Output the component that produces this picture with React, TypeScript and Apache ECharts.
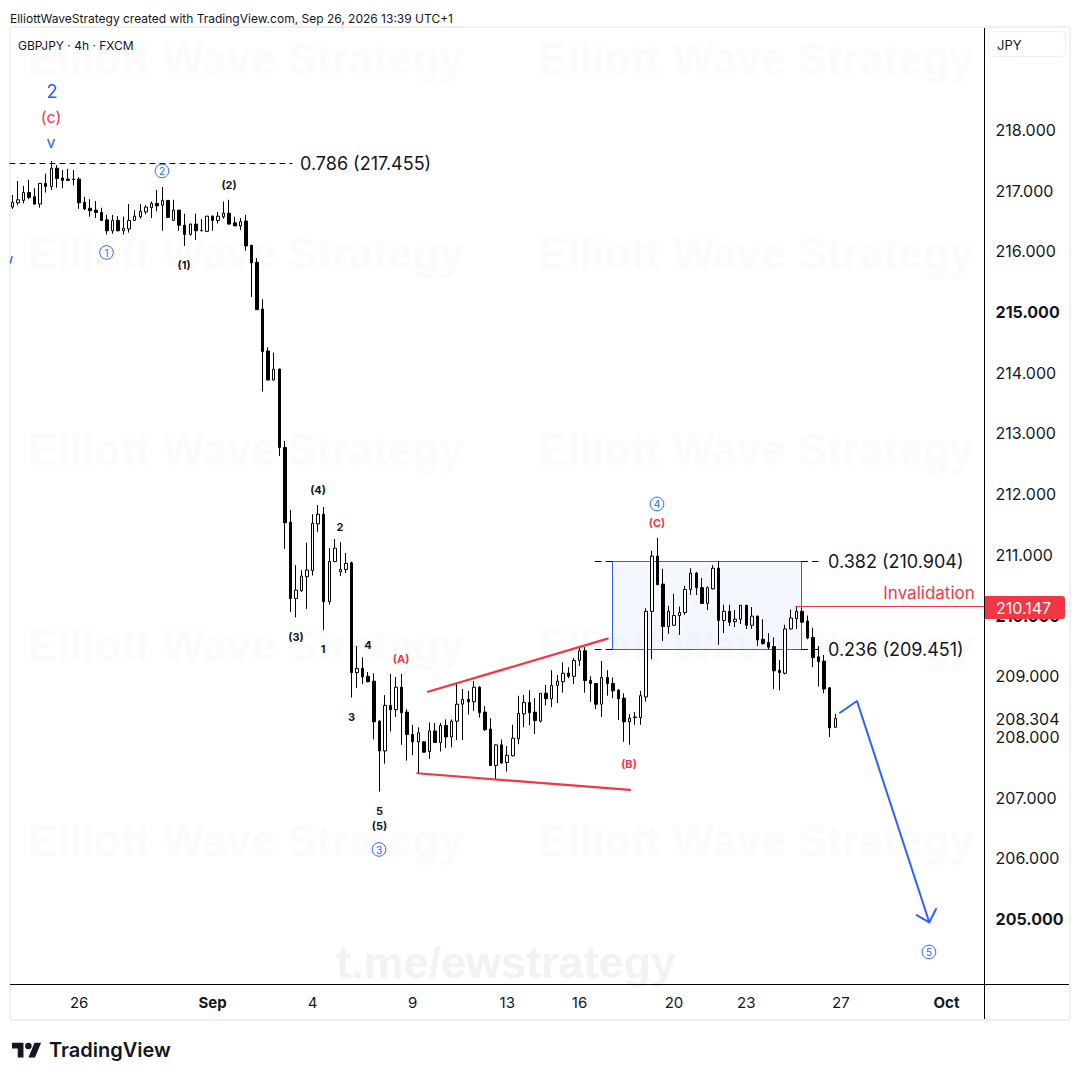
import React, { useEffect, useRef } from 'react';
import * as echarts from 'echarts';

// [open, close, low, high], 4h bars
const candles: number[][] = [
  [216.73,216.81,216.70,216.93],[216.80,216.85,216.76,217.16],[216.84,216.97,216.79,217.08],[216.97,216.89,216.86,217.18],
  [216.90,216.78,216.77,217.04],[216.78,217.12,216.72,217.12],[217.12,217.07,216.97,217.28],[217.07,217.37,217.01,217.49],
  [217.37,217.20,217.05,217.42],[217.21,217.17,217.04,217.34],[217.19,217.17,217.16,217.36],[217.19,217.185,217.09,217.34],
  [217.19,216.80,216.70,217.22],[216.81,216.70,216.68,216.90],[216.71,216.67,216.57,216.86],[216.68,216.64,216.55,216.83],
  [216.64,216.51,216.50,216.72],[216.52,216.34,216.28,216.60],[216.34,216.51,216.29,216.60],[216.51,216.34,216.33,216.58],
  [216.34,216.38,216.28,216.57],[216.37,216.51,216.31,216.78],[216.51,216.58,216.50,216.68],[216.57,216.66,216.54,216.78],
  [216.65,216.73,216.61,216.76],[216.72,216.79,216.55,216.82],[216.79,216.75,216.66,217.01],[216.76,216.84,216.34,217.06],
  [216.84,216.56,216.55,216.84],[216.51,216.68,216.50,216.85],[216.68,216.43,216.34,216.68],[216.43,216.28,216.09,216.62],
  [216.28,216.45,216.26,216.46],[216.45,216.34,216.19,216.62],[216.345,216.34,216.33,216.53],[216.33,216.58,216.32,216.58],
  [216.58,216.51,216.34,216.59],[216.51,216.58,216.46,216.65],[216.57,216.63,216.54,216.82],[216.63,216.45,216.44,216.85],
  [216.47,216.42,216.42,216.57],[216.42,216.49,216.35,216.55],[216.50,216.09,216.01,216.60],[216.10,215.81,215.25,216.10],
  [215.82,215.04,215.04,215.89],[215.05,214.35,213.69,215.21],[214.36,213.88,213.88,214.42],[213.88,214.06,213.87,214.33],
  [214.06,212.77,212.63,214.07],[212.77,211.53,211.10,212.88],[211.54,210.28,210.06,211.74],[210.28,210.42,209.97,210.83],
  [210.41,210.65,210.39,210.75],[210.64,210.75,210.11,211.20],[210.74,211.52,210.66,211.67],[211.51,211.67,211.38,211.82],
  [211.67,210.23,209.76,211.79],[210.23,210.89,210.18,211.11],[210.89,211.11,210.88,211.26],[210.72,210.76,210.65,211.21],
  [210.76,210.86,210.70,211.03],[210.87,209.06,208.65,210.89],[209.06,209.13,208.81,209.50],[209.13,208.99,208.87,209.31],
  [209.00,208.91,208.90,209.07],[208.92,208.25,207.96,209.05],[208.26,207.77,207.10,208.28],[207.77,208.52,207.56,208.69],
  [208.52,208.45,208.09,209.04],[208.45,208.82,208.33,208.99],[208.82,208.40,207.87,209.04],[208.41,208.04,207.61,208.46],
  [208.04,207.92,207.70,208.20],[207.92,208.07,207.40,208.16],[207.92,207.75,207.74,207.93],[207.76,208.10,207.64,208.24],
  [208.10,207.91,207.90,208.23],[207.91,208.19,207.76,208.23],[208.19,208.00,207.82,208.29],[208.00,208.26,207.83,208.29],
  [208.26,208.54,207.95,208.88],[208.54,208.62,207.95,208.79],[208.62,208.58,208.37,208.76],[208.58,208.82,208.43,208.92],
  [208.82,208.40,208.32,208.84],[208.41,208.12,208.10,208.51],[208.13,207.53,207.52,208.31],[207.53,207.87,207.29,207.88],
  [207.87,207.57,207.56,207.96],[207.58,207.70,207.43,207.85],[207.69,207.98,207.68,208.20],[207.97,208.39,207.88,208.68],
  [208.38,208.57,208.16,208.69],[208.57,208.40,208.19,208.77],[208.41,208.27,208.05,208.64],[208.26,208.72,208.24,208.72],
  [208.72,208.63,208.52,208.86],[208.63,208.85,208.49,209.10],[208.85,208.92,208.56,209.02],[208.91,209.05,208.73,209.23],
  [209.05,209.00,208.97,209.15],[209.00,209.26,208.87,209.30],[209.26,209.42,209.17,209.49],[209.42,208.93,208.73,209.48],
  [208.93,208.88,208.58,209.00],[208.88,208.54,208.46,208.89],[208.54,208.98,208.33,209.25],[208.98,208.88,208.68,209.10],
  [208.88,208.76,208.64,208.98],[208.77,208.63,208.28,208.79],[208.64,208.25,207.92,208.72],[208.25,208.31,207.87,208.38],
  [208.33,208.32,208.20,208.41],[208.32,208.68,208.20,208.76],[208.66,210.07,208.58,210.12],[210.07,210.98,209.28,211.07],
  [210.98,210.51,210.50,211.28],[210.52,209.82,209.58,210.77],[209.82,210.07,209.70,210.16],[209.84,210.00,209.83,210.36],
  [210.00,210.05,209.68,210.15],[210.05,210.43,210.01,210.49],[210.43,210.70,210.34,210.78],[210.70,210.46,210.34,210.72],
  [210.46,210.20,210.19,210.62],[210.20,210.46,210.09,210.48],[210.44,210.78,210.43,210.83],[210.78,209.92,209.52,210.90],
  [209.92,210.07,209.71,210.18],[210.07,209.89,209.83,210.18],[209.90,209.94,209.81,210.09],[209.94,210.17,209.86,210.17],
  [210.17,209.84,209.78,210.17],[209.84,209.99,209.78,210.14],[209.99,209.60,209.50,210.00],[209.61,209.54,209.52,209.94],
  [209.56,209.48,209.44,209.71],[209.49,209.09,208.79,209.64],[209.10,209.06,208.77,209.27],[209.05,209.78,209.03,209.85],
  [209.78,209.96,209.77,210.10],[209.95,210.07,209.78,210.15],[210.07,209.89,209.89,210.12],[209.91,209.63,209.61,210.00],
  [209.64,209.31,209.15,209.80],[209.32,209.24,208.83,209.50],[209.25,208.79,208.72,209.35],[208.81,208.15,208.00,208.82],
  [208.16,208.304,208.15,208.38],
];

const barCount = 175; // candles plus empty bars on the right
const dateIndex = [12, 36, 54, 72, 89, 102, 119, 132, 149, 168];
const dateLabels = ['26', 'Sep', '4', '9', '13', '16', '20', '23', '27', 'Oct'];
const boldDates = ['Sep', 'Oct'];

const priceTicks = [218, 217, 216, 215, 214, 213, 212, 211, 210, 209, 208.304, 208, 207, 206, 205];
const boldPrices = [215, 210, 205];
const lastPrice = '210.147';

// drawings, as [bar position, price]
const fib786 = [[0.07, 217.447], [50.8, 217.447]];
const fib382Left = [[105.3, 210.891], [108.44, 210.891]];
const fib382Right = [[142.43, 210.891], [145.4, 210.891]];
const fib236Left = [[105.3, 209.441], [108.44, 209.441]];
const fib236Right = [[142.43, 209.441], [145.4, 209.441]];
const invalidation = [[141.4, 210.15], [175.26, 210.15]];
const trendUpper = [[75.25, 208.746], [107.57, 209.62]];
const trendLower = [[73.33, 207.402], [111.58, 207.127]];
const arrowPath = [[149.35, 208.40], [152.41, 208.593], [165.41, 204.947]];
const arrowHead = [[163.15, 205.067], [165.41, 204.947], [166.62, 205.166]];
const leftStub = [[0.43, 215.913], [0.15, 215.814]];
const fibBox = [[108.44, 210.891], [142.43, 209.441]];

// wave labels, [text, bar position, price]
const blueText: any[][] = [['2', 7.63, 218.626], ['v', 7.45, 217.802]];
const redParen: any[][] = [['(c)', 7.45, 218.214]];
const circled: any[][] = [['1', 17.43, 215.982], ['2', 27.41, 217.325], ['3', 66.44, 206.147], ['4', 116.44, 211.839], ['5', 165.36, 204.458]];
const blackLabels: any[][] = [
  ['(1)', 31.37, 215.776], ['(2)', 39.46, 217.094], ['(3)', 51.51, 209.648], ['(4)', 55.47, 212.07],
  ['2', 59.42, 211.46], ['1', 56.37, 209.45], ['4', 64.46, 209.516], ['3', 61.49, 208.33],
  ['5', 66.53, 206.781], ['(5)', 66.53, 206.534],
];
const redLabels: any[][] = [['(A)', 70.4, 209.285], ['(B)', 111.4, 207.556], ['(C)', 116.44, 211.526]];
const fibLabels: any[][] = [['0.786 (217.455)', 52.23, 217.44], ['0.382 (210.904)', 147.2, 210.89], ['0.236 (209.451)', 147.2, 209.44]];
const invalidationLabel: any[][] = [['Invalidation', 165.36, 210.373]];

const FONT = 'Inter, Roboto, sans-serif';
const BLUE = '#2962ff';
const RED = '#f23645';
const INK = '#131722';

echarts.graphic.registerShape(
  'tvLogo',
  echarts.graphic.extendPath('M14 22H7V11H0V4h14v18zM28 22h-8l7.5-18h8L28 22zM24 8a4 4 0 1 1-8 0a4 4 0 1 1 8 0z', {}) as any
);

const lineSeries = (points: number[][], color: string, width: number, dash?: number[]) => ({
  type: 'line',
  xAxisIndex: 1,
  data: points,
  showSymbol: false,
  symbol: 'none',
  clip: false,
  silent: true,
  z: 5,
  lineStyle: { color, width, type: dash || 'solid', cap: 'round', join: 'round' },
});

const textSeries = (rows: any[][], color: string, fontSize: number, fontWeight: any, align = 'center') => ({
  type: 'custom',
  xAxisIndex: 1,
  data: rows.map((r) => [r[1], r[2]]),
  encode: { x: 0, y: 1 },
  silent: true,
  clip: false,
  z: 6,
  renderItem: (params: any, api: any) => {
    const p = api.coord([api.value(0), api.value(1)]);
    return {
      type: 'text',
      x: p[0],
      y: p[1],
      style: {
        text: rows[params.dataIndex][0],
        fill: color,
        fontSize,
        fontWeight,
        fontFamily: FONT,
        align,
        verticalAlign: 'middle',
      },
    };
  },
});

const circleSeries = (rows: any[][]) => ({
  type: 'custom',
  xAxisIndex: 1,
  data: rows.map((r) => [r[1], r[2]]),
  encode: { x: 0, y: 1 },
  silent: true,
  clip: false,
  z: 6,
  renderItem: (params: any, api: any) => {
    const p = api.coord([api.value(0), api.value(1)]);
    return {
      type: 'group',
      children: [
        { type: 'circle', shape: { cx: p[0], cy: p[1], r: 6.8 }, style: { fill: 'none', stroke: BLUE, lineWidth: 1 } },
        {
          type: 'text',
          x: p[0],
          y: p[1] + 0.5,
          style: { text: rows[params.dataIndex][0], fill: BLUE, fontSize: 10, fontFamily: FONT, align: 'center', verticalAlign: 'middle' },
        },
      ],
    };
  },
});

// chart watermarks, behind everything
const watermarkRows = [58, 253, 449, 645, 840];
const watermarkCols = [246, 756];
const watermarks = watermarkRows.flatMap((y) =>
  watermarkCols.map((x) => ({
    type: 'text',
    x,
    y,
    z: -1,
    silent: true,
    style: {
      text: 'Elliott Wave Strategy',
      fill: '#fbfbfb',
      fontSize: 44,
      fontWeight: 700,
      fontFamily: '"Liberation Sans", sans-serif',
      align: 'center',
      verticalAlign: 'middle',
    },
  }))
);

const App: React.FC = () => {
  const chartRef = useRef<HTMLDivElement>(null);

  useEffect(() => {
    if (!chartRef.current) return;
    const chart = echarts.init(chartRef.current, undefined, { renderer: 'svg' });

    const option: any = {
      animation: false,
      backgroundColor: '#ffffff',
      textStyle: { fontFamily: FONT },
      grid: { left: 9.6, top: 28, width: 973, height: 957, containLabel: false },
      xAxis: [
        {
          type: 'category',
          data: Array.from({ length: barCount }, (_, i) => String(i)),
          boundaryGap: true,
          axisLine: { show: false },
          axisTick: { show: false },
          splitLine: { show: false },
          axisLabel: {
            interval: (i: number) => dateIndex.includes(i),
            margin: 10,
            hideOverlap: false,
            formatter: (_v: string, i: number) => {
              const label = dateLabels[dateIndex.indexOf(i)];
              if (label === undefined) return '';
              return boldDates.includes(label) ? `{b|${label}}` : `{n|${label}}`;
            },
            rich: {
              n: { fontSize: 15, color: INK, fontFamily: FONT },
              b: { fontSize: 15, color: INK, fontFamily: FONT, fontWeight: 700 },
            },
          },
        },
        { type: 'value', show: false, min: 0, max: barCount },
      ],
      yAxis: {
        type: 'value',
        position: 'right',
        min: 203.914,
        max: 219.68,
        axisLine: { show: false },
        axisTick: { show: false },
        splitLine: { show: false },
        axisLabel: {
          customValues: priceTicks,
          align: 'left',
          margin: 13,
          hideOverlap: false,
          formatter: (v: number) => {
            const s = v.toFixed(3);
            return boldPrices.includes(v) ? `{b|${s}}` : `{n|${s}}`;
          },
          rich: {
            n: { fontSize: 16, color: INK, fontFamily: FONT },
            b: { fontSize: 16, color: INK, fontFamily: FONT, fontWeight: 700 },
          },
        },
      },
      series: [
        {
          type: 'custom',
          xAxisIndex: 1,
          data: [fibBox.flat()],
          encode: { x: [0, 2], y: [1, 3] },
          silent: true,
          z: 1,
          renderItem: (_p: any, api: any) => {
            const a = api.coord([api.value(0), api.value(1)]);
            const b = api.coord([api.value(2), api.value(3)]);
            return {
              type: 'rect',
              shape: { x: a[0], y: a[1], width: b[0] - a[0], height: b[1] - a[1] },
              style: { fill: 'rgba(41,98,255,0.05)', stroke: BLUE, lineWidth: 1 },
            };
          },
        },
        {
          type: 'candlestick',
          data: candles,
          barWidth: 3,
          silent: true,
          z: 3,
          itemStyle: {
            color: '#ffffff',
            color0: '#000000',
            borderColor: '#000000',
            borderColor0: '#000000',
            borderColorDoji: '#000000',
            borderWidth: 1,
          },
        },
        lineSeries(fib786, '#000000', 1, [5, 5]),
        lineSeries(fib382Left, '#000000', 1, [6, 5]),
        lineSeries(fib382Right, '#000000', 1, [6, 5]),
        lineSeries(fib236Left, '#000000', 1, [6, 5]),
        lineSeries(fib236Right, '#000000', 1, [6, 5]),
        lineSeries(invalidation, RED, 1),
        lineSeries(trendUpper, RED, 2.2),
        lineSeries(trendLower, RED, 2.2),
        lineSeries(arrowPath, BLUE, 2),
        lineSeries(arrowHead, BLUE, 2),
        lineSeries(leftStub, BLUE, 1.5),
        textSeries(blueText.slice(0, 1), BLUE, 18, 400),
        textSeries(blueText.slice(1), BLUE, 16, 400),
        textSeries(redParen, RED, 16, 400),
        textSeries(blackLabels, INK, 11, 700),
        textSeries(redLabels, RED, 11, 700),
        textSeries(fibLabels, INK, 18, 400, 'left'),
        textSeries(invalidationLabel, RED, 17, 400),
        circleSeries(circled),
      ],
      graphic: [
        ...watermarks,
        {
          type: 'text',
          x: 506,
          y: 962,
          z: -1,
          silent: true,
          style: {
            text: 't.me/ewstrategy',
            fill: '#f2f2f2',
            fontSize: 45,
            fontWeight: 700,
            fontFamily: '"Liberation Sans", sans-serif',
            align: 'center',
            verticalAlign: 'middle',
          },
        },
        // panel frame and axis rules
        { type: 'rect', z: -2, silent: true, shape: { x: 10, y: 27, width: 1060, height: 993, r: 3 }, style: { fill: 'none', stroke: '#f0f0f0', lineWidth: 2 } },
        { type: 'line', z: 7, silent: true, shape: { x1: 984.5, y1: 28, x2: 984.5, y2: 1019 }, style: { stroke: '#000000', lineWidth: 1 } },
        { type: 'line', z: 7, silent: true, shape: { x1: 10, y1: 984.5, x2: 1069, y2: 984.5 }, style: { stroke: '#000000', lineWidth: 1 } },
        { type: 'rect', z: 7, silent: true, shape: { x: 988.5, y: 31.5, width: 77, height: 25, r: 5 }, style: { fill: '#ffffff', stroke: '#efefef', lineWidth: 1 } },
        { type: 'text', z: 8, silent: true, x: 997, y: 45, style: { text: 'JPY', fill: INK, fontSize: 13, fontFamily: FONT, verticalAlign: 'middle' } },
        { type: 'text', silent: true, x: 10, y: 18, style: { text: 'ElliottWaveStrategy created with TradingView.com, Sep 26, 2026 13:39 UTC+1', fill: INK, fontSize: 12, fontFamily: FONT, verticalAlign: 'middle' } },
        { type: 'text', z: 8, silent: true, x: 18, y: 45, style: { text: 'GBPJPY · 4h · FXCM', fill: INK, fontSize: 12, fontFamily: FONT, verticalAlign: 'middle' } },
        // last price tag
        { type: 'rect', z: 20, silent: true, shape: { x: 985, y: 596, width: 80, height: 23, r: [0, 3, 3, 0] }, style: { fill: RED } },
        { type: 'text', z: 21, silent: true, x: 996, y: 608, style: { text: lastPrice, fill: '#ffffff', fontSize: 16, fontFamily: FONT, verticalAlign: 'middle' } },
        // footer logo
        { type: 'tvLogo', silent: true, x: 12, y: 1039.4, scaleX: 0.82, scaleY: 0.82, style: { fill: INK } },
        { type: 'text', silent: true, x: 49, y: 1050, style: { text: 'TradingView', fill: INK, fontSize: 20, fontWeight: 600, fontFamily: FONT, verticalAlign: 'middle' } },
      ],
    };

    chart.setOption(option);
    return () => chart.dispose();
  }, []);

  return <div ref={chartRef} style={{ position: 'absolute', left: 0, top: 0, width: 1080, height: 1080 }} />;
};

export default App;
